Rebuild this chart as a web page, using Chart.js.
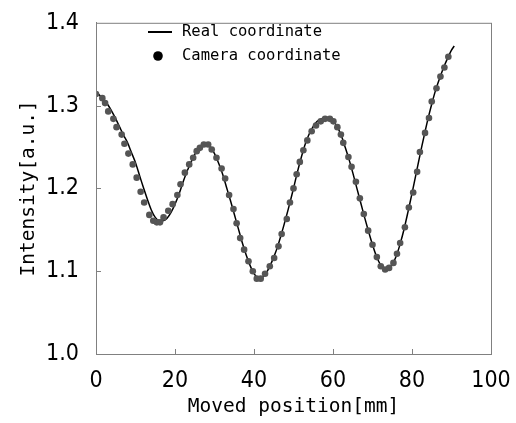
<!DOCTYPE html>
<html>
<head>
<meta charset="utf-8">
<script src="https://cdn.jsdelivr.net/npm/chart.js@4/dist/chart.umd.min.js"></script>
<style>
  html, body { margin: 0; padding: 0; background: #fff; }
  #wrap { width: 516px; height: 423px; }
</style>
</head>
<body>
<div id="wrap"><canvas id="chart"></canvas></div>
<script>
// camera coordinate (dots)
const camX = [0, 1.6, 2.3, 3.1, 4.4, 5.2, 6.5, 7.2, 8.2, 9.3, 10.3, 11.3, 12.2, 13.5, 14.5, 15.4, 16.2, 17.1, 18.3, 19.4,
  20.6, 21.4, 22.5, 23.6, 24.6, 25.5, 26.3, 27.3, 28.4, 29.3, 30.5, 31.8, 32.7, 33.7, 34.8, 35.6, 36.5, 37.5, 38.6, 39.7,
  40.7, 41.7, 42.8, 44.0, 45.1, 46.2, 47.0, 48.3, 49.1, 50.0, 50.8, 51.6, 52.5, 53.5, 54.6, 55.7, 56.9, 58.0, 59.2, 60.1,
  61.1, 62.0, 62.6, 63.9, 64.7, 65.8, 66.8, 67.8, 68.9, 70.0, 71.1, 72.1, 73.2, 74.2, 75.3, 76.2, 77.0, 78.2, 79.2, 80.3,
  81.3, 82.0, 83.3, 84.3, 85.0, 86.2, 87.2, 88.2, 89.2]
const camY = [1.314, 1.309, 1.303, 1.293, 1.284, 1.274, 1.265, 1.254, 1.242, 1.229, 1.213, 1.196, 1.183, 1.168, 1.161, 1.159, 1.159, 1.165, 1.173, 1.181,
  1.192, 1.205, 1.219, 1.229, 1.237, 1.245, 1.249, 1.253, 1.253, 1.247, 1.237, 1.224, 1.212, 1.192, 1.175, 1.158, 1.140, 1.126, 1.112, 1.100,
  1.091, 1.091, 1.097, 1.106, 1.116, 1.130, 1.145, 1.163, 1.183, 1.200, 1.217, 1.232, 1.246, 1.258, 1.269, 1.276, 1.281, 1.284, 1.284, 1.281,
  1.274, 1.265, 1.255, 1.238, 1.226, 1.208, 1.188, 1.169, 1.149, 1.132, 1.117, 1.106, 1.102, 1.104, 1.110, 1.121, 1.134, 1.153, 1.177, 1.195,
  1.220, 1.244, 1.267, 1.285, 1.305, 1.321, 1.335, 1.346, 1.359]

// real coordinate (line)
const realX = [0, 1, 2, 3, 4, 5, 6, 7, 8, 9, 10, 11, 12, 13, 14, 15, 16, 17, 18, 19,
  20, 21, 22, 23, 24, 25, 26, 27, 28, 29, 30, 31, 32, 33, 34, 35, 36, 37, 38, 39,
  40, 41, 42, 43, 44, 45, 46, 47, 48, 49, 50, 51, 52, 53, 54, 55, 56, 57, 58, 59,
  60, 61, 62, 63, 64, 65, 66, 67, 68, 69, 70, 71, 72, 73, 74, 75, 76, 77, 78, 79,
  80, 81, 82, 83, 84, 85, 86, 87, 88, 89, 90, 90.7]
const realY = [1.316, 1.312, 1.307, 1.301, 1.293, 1.284, 1.274, 1.264, 1.255, 1.243, 1.231, 1.216, 1.201, 1.187, 1.174, 1.165, 1.161, 1.161, 1.164, 1.171,
  1.181, 1.193, 1.207, 1.220, 1.231, 1.241, 1.248, 1.252, 1.253, 1.250, 1.242, 1.231, 1.218, 1.202, 1.186, 1.169, 1.152, 1.135, 1.120, 1.107,
  1.097, 1.092, 1.092, 1.097, 1.106, 1.117, 1.130, 1.146, 1.163, 1.181, 1.200, 1.220, 1.238, 1.254, 1.266, 1.275, 1.281, 1.284, 1.285, 1.285,
  1.282, 1.275, 1.265, 1.251, 1.236, 1.219, 1.201, 1.183, 1.165, 1.148, 1.132, 1.118, 1.108, 1.102, 1.102, 1.108, 1.118, 1.133, 1.151, 1.172,
  1.194, 1.217, 1.240, 1.262, 1.283, 1.302, 1.319, 1.333, 1.346, 1.357, 1.367, 1.372]

const xTicks = [0, 20, 40, 60, 80, 100]
const yTicks = [1.0, 1.1, 1.2, 1.3, 1.4]

const NUM_FONT = '"DejaVu Sans Condensed", "DejaVu Sans Mono", sans-serif'
const TEXT_FONT = '"DejaVu Sans Mono", monospace'
const AXIS_COLOR = '#808080'

// box around the plot, inward ticks, and the legend inside the plot
const frame = {
  id: 'frame',
  afterDraw(chart) {
    const {ctx, chartArea: a, scales} = chart
    ctx.save()
    ctx.strokeStyle = AXIS_COLOR
    ctx.lineWidth = 1
    ctx.strokeRect(a.left + 0.5, a.top + 0.5, a.right - a.left, a.bottom - a.top)
    ctx.beginPath()
    xTicks.slice(1, -1).forEach((v) => {
      const px = Math.round(scales.x.getPixelForValue(v)) + 0.5
      ctx.moveTo(px, a.bottom)
      ctx.lineTo(px, a.bottom - 5)
    })
    yTicks.slice(1, -1).forEach((v) => {
      const py = Math.round(scales.y.getPixelForValue(v)) + 0.5
      ctx.moveTo(a.left, py)
      ctx.lineTo(a.left + 5, py)
    })
    ctx.stroke()

    // legend
    const ds = chart.data.datasets
    ctx.font = '15.5px ' + TEXT_FONT
    ctx.fillStyle = '#000'
    ctx.textBaseline = 'middle'
    ctx.strokeStyle = '#000'
    ctx.lineWidth = 2
    ctx.beginPath()
    ctx.moveTo(148, 32)
    ctx.lineTo(172, 32)
    ctx.stroke()
    ctx.fillText(ds[0].label, 182, 32)
    ctx.beginPath()
    ctx.arc(158, 56, 4.8, 0, Math.PI * 2)
    ctx.fill()
    ctx.fillText(ds[1].label, 182, 56)
    ctx.restore()
  }
}

new Chart(document.getElementById('chart'), {
  type: 'scatter',
  data: {
    datasets: [
      {
        label: 'Real coordinate',
        data: realX.map((x, i) => ({x, y: realY[i]})),
        showLine: true,
        borderColor: '#000',
        borderWidth: 1.5,
        pointRadius: 0,
        tension: 0.3,
        order: 2,
      },
      {
        label: 'Camera coordinate',
        data: camX.map((x, i) => ({x, y: camY[i]})),
        showLine: false,
        backgroundColor: '#555',
        borderColor: '#555',
        pointRadius: 3.3,
        pointBorderWidth: 0,
        order: 1,
      },
    ],
  },
  options: {
    responsive: true,
    maintainAspectRatio: false,
    animation: false,
    layout: {padding: {left: 0, right: 25, top: 13, bottom: 0}},
    plugins: {legend: {display: false}, tooltip: {enabled: false}},
    scales: {
      x: {
        type: 'linear',
        min: 0,
        max: 100,
        afterBuildTicks: (s) => { s.ticks = xTicks.map((v) => ({value: v})) },
        afterFit: (s) => { s.height = 69 },
        grid: {display: false},
        border: {display: true, color: AXIS_COLOR},
        ticks: {color: '#000', padding: 5, maxRotation: 0, font: {family: NUM_FONT, size: 23}},
        title: {display: true, text: 'Moved position[mm]', color: '#000', font: {family: TEXT_FONT, size: 19.5}, padding: {top: 0, bottom: 4}},
      },
      y: {
        type: 'linear',
        min: 1.0,
        max: 1.4,
        afterBuildTicks: (s) => { s.ticks = yTicks.map((v) => ({value: v})) },
        afterFit: (s) => { s.width = 96 },
        grid: {display: false},
        border: {display: true, color: AXIS_COLOR},
        ticks: {color: '#000', padding: 9, font: {family: NUM_FONT, size: 23}, callback: (v) => v.toFixed(1)},
        title: {display: true, text: 'Intensity[a.u.]', color: '#000', font: {family: TEXT_FONT, size: 19.5}, padding: {top: 17, bottom: 0}},
      },
    },
  },
  plugins: [frame],
})
</script>
</body>
</html>
